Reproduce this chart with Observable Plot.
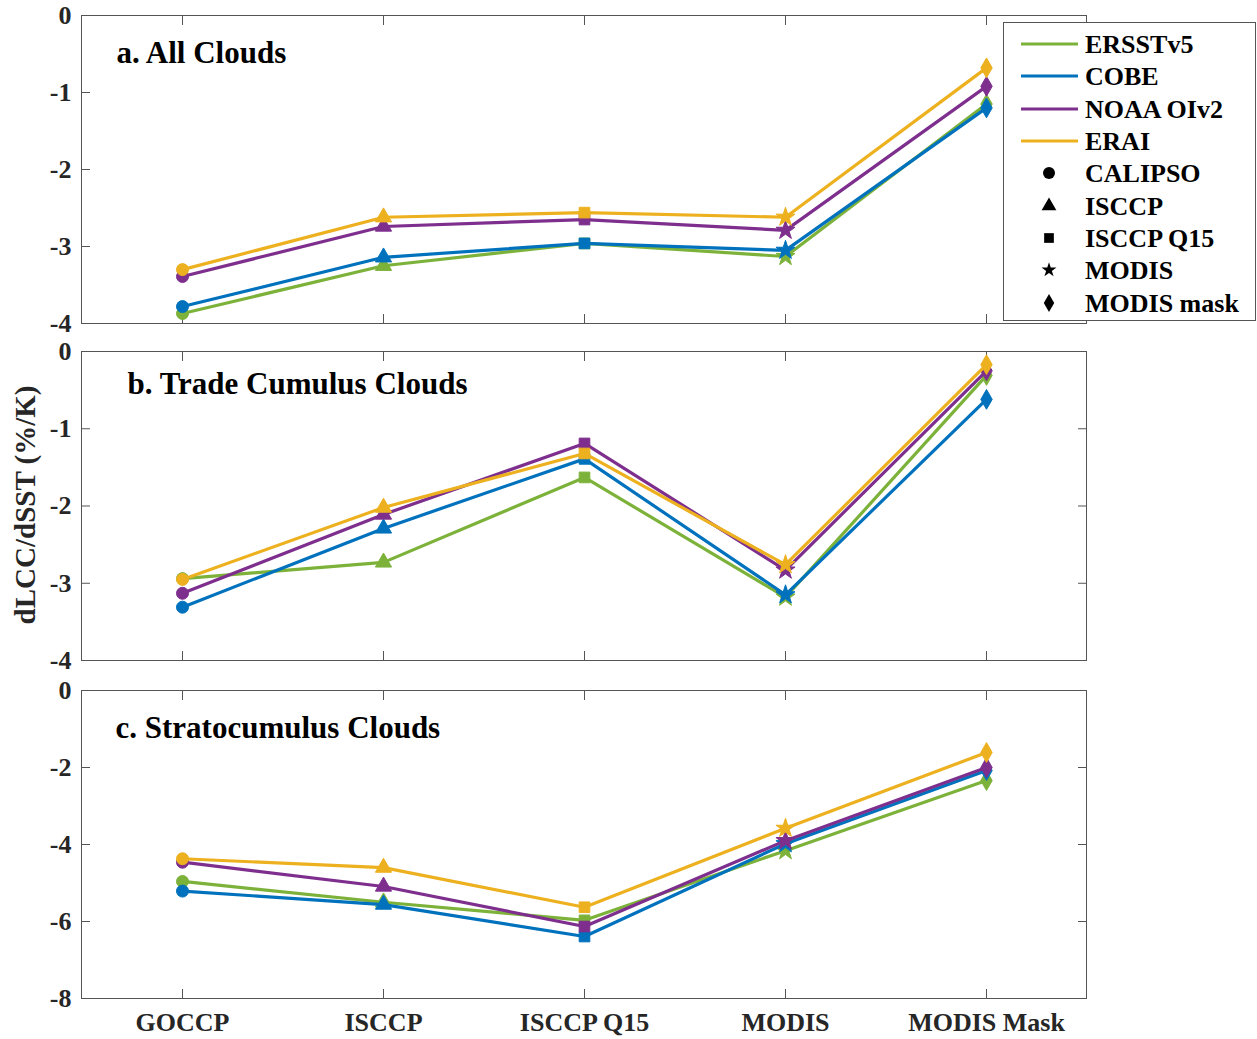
<!DOCTYPE html>
<html><head><meta charset="utf-8">
<script src="https://cdn.jsdelivr.net/npm/d3@7"></script>
<script src="https://cdn.jsdelivr.net/npm/@observablehq/plot@0.6"></script>
<style>
body{margin:0;background:#fff;}
#wrap{position:relative;width:1257px;height:1039px;overflow:hidden;background:#fff;font-family:"Liberation Serif","Times New Roman",serif;font-weight:bold;color:#262626;}
.panel{position:absolute;left:0;}
.panel svg{overflow:visible;}
#legend{position:absolute;left:1003px;top:22px;width:251px;height:297px;border:1px solid #555;background:#fff;}
#ylab{position:absolute;left:25px;top:505px;transform:translate(-50%,-50%) rotate(-90deg);font-size:29px;white-space:nowrap;color:#262626;}
</style></head>
<body>
<div id="wrap">
  <div class="panel" id="pa" style="top:0px"></div>
  <div class="panel" id="pb" style="top:336px"></div>
  <div class="panel" id="pc" style="top:675px"></div>
  <div id="ylab">dLCC/dSST (%/K)</div>
  <div id="legend"></div>
</div>
<script>
const categories = ["GOCCP", "ISCCP", "ISCCP Q15", "MODIS", "MODIS Mask"];
const seriesNames = ["ERSSTv5", "COBE", "NOAA OIv2", "ERAI"];
const seriesColors = ["#7DB23A", "#0072BD", "#7E2F8E", "#EDB120"];
const symbolLabels = ["CALIPSO", "ISCCP", "ISCCP Q15", "MODIS", "MODIS mask"];
const symbolShapes = ["circle", "triangle", "square", "star", "diamond"];

// rows: ERSSTv5, COBE, NOAA OIv2, ERAI
const allClouds = [
  [-3.87, -3.25, -2.96, -3.13, -1.15],
  [-3.78, -3.14, -2.96, -3.05, -1.20],
  [-3.39, -2.74, -2.65, -2.79, -0.92],
  [-3.30, -2.62, -2.56, -2.62, -0.68]
];
const tradeCumulus = [
  [-2.94, -2.73, -1.63, -3.18, -0.31],
  [-3.31, -2.29, -1.39, -3.15, -0.62],
  [-3.13, -2.11, -1.19, -2.83, -0.25],
  [-2.95, -2.02, -1.32, -2.76, -0.17]
];
const stratocumulus = [
  [-4.96, -5.50, -5.97, -4.16, -2.34],
  [-5.21, -5.56, -6.39, -3.98, -2.08],
  [-4.46, -5.09, -6.13, -3.90, -2.00],
  [-4.37, -4.60, -5.63, -3.58, -1.61]
];
const ticksA = [0, -1, -2, -3, -4];
const ticksB = [0, -1, -2, -3, -4];
const ticksC = [0, -2, -4, -6, -8];
const titles = ["a. All Clouds", "b. Trade Cumulus Clouds", "c. Stratocumulus Clouds"];

const AX = "#555";
function panel(rows, domain, ticks, title, titleDx, titleDy, height, mb, showX) {
  const data = [];
  seriesNames.forEach((s, i) => categories.forEach((c, j) => data.push({series: s, cat: c, value: rows[i][j]})));
  const marks = [
    Plot.frame({stroke: AX}),
    Plot.axisY({ticks, anchor: "left", tickSize: -9, fill: "none", stroke: AX, label: null}),
    Plot.axisY({ticks, anchor: "right", tickSize: -9, fill: "none", stroke: AX, label: null}),
    Plot.axisY({ticks, anchor: "left", tickSize: 0, tickPadding: 10, label: null, tickFormat: d => String(d), fill: "#262626"}),
    Plot.axisX({anchor: "bottom", tickSize: -9, fill: "none", stroke: AX, label: null}),
    Plot.axisX({anchor: "top", tickSize: -9, fill: "none", stroke: AX, label: null})
  ];
  if (showX) marks.push(Plot.axisX({anchor: "bottom", tickSize: 0, tickPadding: 14, label: null, fill: "#262626"}));
  seriesNames.forEach(s => {
    const d = data.filter(e => e.series === s);
    marks.push(Plot.line(d, {x: "cat", y: "value", stroke: "series", strokeWidth: 3.2}));
    marks.push(Plot.dot(d, {x: "cat", y: "value", symbol: "cat", fill: "series", stroke: "series", strokeWidth: 1, r: 6}));
  });
  marks.push(Plot.text([title], {frameAnchor: "top-left", dx: titleDx, dy: titleDy, text: d => d, fontSize: 31, textAnchor: "start", lineAnchor: "middle", fill: "#000"}));
  return Plot.plot({
    width: 1257, height,
    marginLeft: 81, marginRight: 171, marginTop: 15, marginBottom: mb,
    style: {fontFamily: '"Liberation Serif","Times New Roman",serif', fontWeight: "bold", fontSize: "26px", background: "transparent", overflow: "visible"},
    x: {type: "point", domain: categories, padding: 0.5, label: null},
    y: {domain, label: null},
    color: {domain: seriesNames, range: seriesColors},
    symbol: {domain: categories, range: symbolShapes},
    marks
  });
}
document.getElementById("pa").append(panel(allClouds, [-4, 0], ticksA, titles[0], 35, 38, 338, 15, false));
document.getElementById("pb").append(panel(tradeCumulus, [-4, 0], ticksB, titles[1], 46, 33, 339, 15, false));
document.getElementById("pc").append(panel(stratocumulus, [-8, 0], ticksC, titles[2], 34, 38, 364, 41, true));

// legend
const lg = d3.select("#legend").append("svg").attr("width", 251).attr("height", 297)
  .style("font-family", '"Liberation Serif","Times New Roman",serif').style("font-weight", "bold").style("font-size", "26px");
const rowY = [21, 53, 86, 118, 150, 183, 215, 247, 280];
seriesNames.forEach((s, i) => {
  lg.append("line").attr("x1", 17).attr("x2", 74).attr("y1", rowY[i]).attr("y2", rowY[i]).attr("stroke", seriesColors[i]).attr("stroke-width", 3);
  lg.append("text").attr("x", 81).attr("y", rowY[i]).attr("dy", "0.35em").text(s).attr("fill", "#000");
});
const d3sym = {circle: d3.symbolCircle, triangle: d3.symbolTriangle, square: d3.symbolSquare, star: d3.symbolStar, diamond: d3.symbolDiamond};
const legendSizes = [36, 30, 30, 22, 30];
symbolLabels.forEach((s, k) => {
  const y = rowY[4 + k];
  lg.append("path").attr("transform", `translate(45,${y})`).attr("d", d3.symbol(d3sym[symbolShapes[k]], Math.PI * legendSizes[k])()).attr("fill", "#000");
  lg.append("text").attr("x", 81).attr("y", y).attr("dy", "0.35em").text(s).attr("fill", "#000");
});
</script>
</body></html>
